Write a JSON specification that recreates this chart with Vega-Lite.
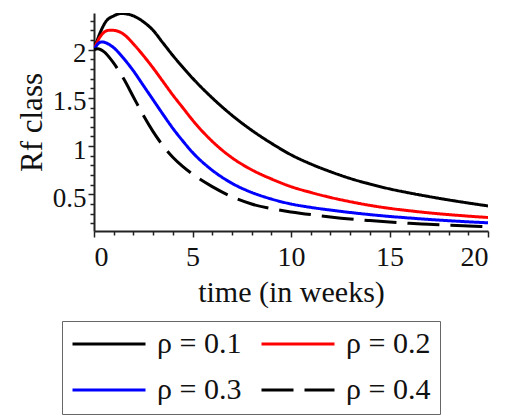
{
  "$schema": "https://vega.github.io/schema/vega-lite/v6.json",
  "autosize": {"type": "none"},
  "padding": {"left": 94, "top": 13, "right": 25, "bottom": 186},
  "width": 394,
  "height": 218,
  "config": {
    "font": "Liberation Serif",
    "view": {"stroke": null},
    "axis": {"grid": false, "domainColor": "#222", "domainWidth": 2, "tickColor": "#222", "tickWidth": 1.5, "labelColor": "#111", "titleColor": "#111", "titleFontWeight": "normal", "labelFont": "Liberation Serif", "titleFont": "Liberation Serif"}
  },
  "data": {"values": [
    {"t":0,"v":2.00,"s":"ρ = 0.1"},{"t":0.3,"v":2.17,"s":"ρ = 0.1"},{"t":0.6,"v":2.29,"s":"ρ = 0.1"},{"t":1.0,"v":2.35,"s":"ρ = 0.1"},{"t":1.4,"v":2.375,"s":"ρ = 0.1"},{"t":2.0,"v":2.35,"s":"ρ = 0.1"},{"t":2.5,"v":2.29,"s":"ρ = 0.1"},{"t":3.0,"v":2.2,"s":"ρ = 0.1"},{"t":3.5,"v":2.07,"s":"ρ = 0.1"},{"t":4.0,"v":1.94,"s":"ρ = 0.1"},{"t":4.5,"v":1.82,"s":"ρ = 0.1"},{"t":5,"v":1.705,"s":"ρ = 0.1"},{"t":6,"v":1.5,"s":"ρ = 0.1"},{"t":7,"v":1.32,"s":"ρ = 0.1"},{"t":8,"v":1.165,"s":"ρ = 0.1"},{"t":9,"v":1.03,"s":"ρ = 0.1"},{"t":10,"v":0.91,"s":"ρ = 0.1"},{"t":11,"v":0.815,"s":"ρ = 0.1"},{"t":12,"v":0.735,"s":"ρ = 0.1"},{"t":13,"v":0.665,"s":"ρ = 0.1"},{"t":14,"v":0.607,"s":"ρ = 0.1"},{"t":15,"v":0.557,"s":"ρ = 0.1"},{"t":16,"v":0.515,"s":"ρ = 0.1"},{"t":17,"v":0.477,"s":"ρ = 0.1"},{"t":18,"v":0.442,"s":"ρ = 0.1"},{"t":19,"v":0.41,"s":"ρ = 0.1"},{"t":20,"v":0.38,"s":"ρ = 0.1"},
    {"t":0,"v":2.00,"s":"ρ = 0.2"},{"t":0.3,"v":2.13,"s":"ρ = 0.2"},{"t":0.75,"v":2.2,"s":"ρ = 0.2"},{"t":1.0,"v":2.2,"s":"ρ = 0.2"},{"t":1.5,"v":2.16,"s":"ρ = 0.2"},{"t":2.0,"v":2.06,"s":"ρ = 0.2"},{"t":2.5,"v":1.94,"s":"ρ = 0.2"},{"t":3.0,"v":1.81,"s":"ρ = 0.2"},{"t":3.5,"v":1.67,"s":"ρ = 0.2"},{"t":4.0,"v":1.53,"s":"ρ = 0.2"},{"t":4.5,"v":1.4,"s":"ρ = 0.2"},{"t":5,"v":1.27,"s":"ρ = 0.2"},{"t":6,"v":1.05,"s":"ρ = 0.2"},{"t":7,"v":0.88,"s":"ρ = 0.2"},{"t":8,"v":0.755,"s":"ρ = 0.2"},{"t":9,"v":0.66,"s":"ρ = 0.2"},{"t":10,"v":0.58,"s":"ρ = 0.2"},{"t":11,"v":0.52,"s":"ρ = 0.2"},{"t":12,"v":0.468,"s":"ρ = 0.2"},{"t":13,"v":0.424,"s":"ρ = 0.2"},{"t":14,"v":0.386,"s":"ρ = 0.2"},{"t":15,"v":0.355,"s":"ρ = 0.2"},{"t":16,"v":0.33,"s":"ρ = 0.2"},{"t":17,"v":0.308,"s":"ρ = 0.2"},{"t":18,"v":0.29,"s":"ρ = 0.2"},{"t":19,"v":0.274,"s":"ρ = 0.2"},{"t":20,"v":0.26,"s":"ρ = 0.2"},
    {"t":0,"v":2.00,"s":"ρ = 0.3"},{"t":0.2,"v":2.06,"s":"ρ = 0.3"},{"t":0.4,"v":2.08,"s":"ρ = 0.3"},{"t":0.8,"v":2.05,"s":"ρ = 0.3"},{"t":1.0,"v":2.02,"s":"ρ = 0.3"},{"t":1.5,"v":1.91,"s":"ρ = 0.3"},{"t":2.0,"v":1.78,"s":"ρ = 0.3"},{"t":2.5,"v":1.63,"s":"ρ = 0.3"},{"t":3.0,"v":1.48,"s":"ρ = 0.3"},{"t":3.5,"v":1.33,"s":"ρ = 0.3"},{"t":4.0,"v":1.185,"s":"ρ = 0.3"},{"t":4.5,"v":1.055,"s":"ρ = 0.3"},{"t":5,"v":0.935,"s":"ρ = 0.3"},{"t":6,"v":0.75,"s":"ρ = 0.3"},{"t":7,"v":0.615,"s":"ρ = 0.3"},{"t":8,"v":0.52,"s":"ρ = 0.3"},{"t":9,"v":0.452,"s":"ρ = 0.3"},{"t":10,"v":0.4,"s":"ρ = 0.3"},{"t":11,"v":0.365,"s":"ρ = 0.3"},{"t":12,"v":0.337,"s":"ρ = 0.3"},{"t":13,"v":0.312,"s":"ρ = 0.3"},{"t":14,"v":0.29,"s":"ρ = 0.3"},{"t":15,"v":0.271,"s":"ρ = 0.3"},{"t":16,"v":0.255,"s":"ρ = 0.3"},{"t":17,"v":0.24,"s":"ρ = 0.3"},{"t":18,"v":0.227,"s":"ρ = 0.3"},{"t":19,"v":0.215,"s":"ρ = 0.3"},{"t":20,"v":0.205,"s":"ρ = 0.3"},
    {"t":0,"v":2.00,"s":"ρ = 0.4"},{"t":0.2,"v":2.01,"s":"ρ = 0.4"},{"t":0.5,"v":1.98,"s":"ρ = 0.4"},{"t":1.0,"v":1.86,"s":"ρ = 0.4"},{"t":1.5,"v":1.7,"s":"ρ = 0.4"},{"t":2.0,"v":1.51,"s":"ρ = 0.4"},{"t":2.5,"v":1.32,"s":"ρ = 0.4"},{"t":3.0,"v":1.15,"s":"ρ = 0.4"},{"t":3.5,"v":1.005,"s":"ρ = 0.4"},{"t":4.0,"v":0.885,"s":"ρ = 0.4"},{"t":4.5,"v":0.79,"s":"ρ = 0.4"},{"t":5,"v":0.71,"s":"ρ = 0.4"},{"t":6,"v":0.58,"s":"ρ = 0.4"},{"t":7,"v":0.475,"s":"ρ = 0.4"},{"t":8,"v":0.4,"s":"ρ = 0.4"},{"t":9,"v":0.352,"s":"ρ = 0.4"},{"t":10,"v":0.318,"s":"ρ = 0.4"},{"t":11,"v":0.29,"s":"ρ = 0.4"},{"t":12,"v":0.266,"s":"ρ = 0.4"},{"t":13,"v":0.245,"s":"ρ = 0.4"},{"t":14,"v":0.228,"s":"ρ = 0.4"},{"t":15,"v":0.213,"s":"ρ = 0.4"},{"t":16,"v":0.2,"s":"ρ = 0.4"},{"t":17,"v":0.19,"s":"ρ = 0.4"},{"t":18,"v":0.18,"s":"ρ = 0.4"},{"t":19,"v":0.172,"s":"ρ = 0.4"},{"t":20,"v":0.165,"s":"ρ = 0.4"}
  ]},
  "mark": {"type": "line", "interpolate": "monotone", "strokeWidth": 3, "clip": true},
  "encoding": {
    "x": {"field": "t", "type": "quantitative", "scale": {"domain": [0, 20], "nice": false, "zero": false},
      "axis": {"title": "time (in weeks)", "titleFontSize": 30, "titlePadding": 6, "labelFontSize": 28, "labelPadding": 6, "labelOverlap": false,
        "values": [0,1,2,3,4,5,6,7,8,9,10,11,12,13,14,15,16,17,18,19,20],
        "labelExpr": "datum.value % 5 === 0 ? format(datum.value, 'd') : ''",
        "tickSize": {"condition": {"test": "datum.value % 5 === 0", "value": 6}, "value": 4}}},
    "y": {"field": "v", "type": "quantitative", "scale": {"domain": [0.12, 2.38], "nice": false, "zero": false},
      "axis": {"title": "Rf class", "titleFontSize": 31, "titlePadding": 4, "labelFontSize": 27, "labelPadding": 2, "labelOverlap": false, "labelOffset": 4,
        "values": [0.2,0.3,0.4,0.5,0.6,0.7,0.8,0.9,1,1.1,1.2,1.3,1.4,1.5,1.6,1.7,1.8,1.9,2,2.1,2.2,2.3],
        "labelExpr": "abs(datum.value*2 - round(datum.value*2)) < 0.001 ? format(datum.value, '~g') : ''",
        "tickSize": {"condition": {"test": "abs(datum.value*2 - round(datum.value*2)) < 0.001", "value": 6}, "value": 4}}},
    "color": {"field": "s", "type": "nominal",
      "scale": {"domain": ["ρ = 0.1", "ρ = 0.3", "ρ = 0.2", "ρ = 0.4"], "range": ["#000000", "#0000ff", "#ff0000", "#000000"]},
      "legend": {"title": null, "orient": "none", "legendX": -32, "legendY": 308, "columns": 2, "symbolType": "stroke", "symbolSize": 5329, "symbolStrokeWidth": 3, "clipHeight": 28, "rowPadding": 16, "columnPadding": 18, "labelOffset": 10, "labelFontSize": 30, "labelFont": "Liberation Serif", "labelColor": "#111", "padding": 9, "strokeColor": "#666", "labelLimit": 300}},
    "strokeDash": {"field": "s", "type": "nominal",
      "scale": {"domain": ["ρ = 0.1", "ρ = 0.3", "ρ = 0.2", "ρ = 0.4"], "range": [[1, 0], [1, 0], [1, 0], [32, 11]]},
      "legend": {"title": null, "orient": "none", "legendX": -32, "legendY": 308, "columns": 2, "symbolType": "stroke", "symbolSize": 5329, "symbolStrokeWidth": 3, "clipHeight": 28, "rowPadding": 16, "columnPadding": 18, "labelOffset": 10, "labelFontSize": 30, "labelFont": "Liberation Serif", "labelColor": "#111", "padding": 9, "strokeColor": "#666", "labelLimit": 300}}
  }
}
